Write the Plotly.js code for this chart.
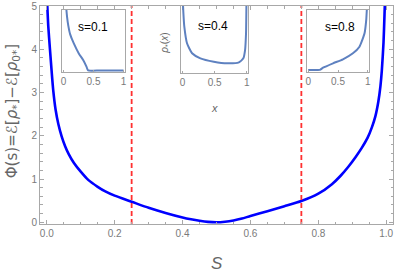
<!DOCTYPE html>
<html><head><meta charset="utf-8">
<script src="https://cdn.plot.ly/plotly-3.0.1.min.js"></script>
<style>html,body{margin:0;padding:0;background:#fff}#c{width:395px;height:277px}</style>
</head><body><div id="c"></div>
<script>
// main curve Phi(s)
const sVals = [0.001,0.0044,0.0094,0.0142,0.019,0.026,0.034,0.044,0.054,0.065,0.08,0.1,0.122,0.15,0.171,0.2,0.25,0.3,0.35,0.4,0.425,0.45,0.475,0.5,0.525,0.55,0.575,0.6,0.65,0.7,0.75,0.8,0.84,0.865,0.889,0.91,0.928,0.945,0.958,0.968,0.977,0.983,0.987,0.992,0.995,0.997];
const phiVals = [5.1,4.53,3.99,3.5,3.05,2.6,2.27,1.98,1.76,1.57,1.37,1.17,0.98,0.82,0.72,0.615,0.475,0.335,0.215,0.11,0.068,0.035,0.01,0.0,0.012,0.04,0.085,0.145,0.255,0.37,0.49,0.66,0.88,1.07,1.29,1.51,1.72,1.95,2.2,2.45,2.8,3.15,3.5,4.15,4.8,5.3];
// dashed marker positions
const dashS = [0.25, 0.75];
// inset s=0.1
const in1X = [0.04,0.06,0.08,0.11,0.17,0.255,0.328,0.383,0.41,0.6,0.8,1.0];
const in1Y = [1.1,0.88,0.74,0.6,0.45,0.28,0.173,0.063,0.0,0.0,0.0,0.0];
// inset s=0.4
const in2X = [0.003,0.012,0.027,0.069,0.148,0.278,0.487,0.697,0.879,0.948,0.975,0.99,0.997];
const in2Y = [1.1,0.9,0.68,0.424,0.27,0.192,0.14,0.115,0.13,0.192,0.32,0.58,1.1];
// inset s=0.8
const in3X = [0.0,0.1,0.195,0.25,0.417,0.583,0.75,0.86,0.945,0.973,0.983,0.99];
const in3Y = [0.0,0.0,0.0,0.037,0.11,0.177,0.277,0.387,0.61,0.83,1.0,1.1];
const insetTicks = [0,0.5,1];
const insetTickText = ['0','0.5','1'];
const xTicks = [0,0.2,0.4,0.6,0.8,1.0];
const yTicks = [0,1,2,3,4,5];

const frame = '#a8a8a8';
const tickCol = '#7a7a7a';
const insetBlue = '#5e81c0';
const red = '#ff3030';

const traces = [
  {x:sVals, y:phiVals, mode:'lines', line:{color:'#0000ff', width:2.6, shape:'spline', smoothing:0.6}, xaxis:'x', yaxis:'y'},
  {x:[dashS[0],dashS[0]], y:[-0.04,5], mode:'lines', line:{color:red, width:1.8, dash:'5px,3px'}, xaxis:'x', yaxis:'y'},
  {x:[dashS[1],dashS[1]], y:[-0.04,5], mode:'lines', line:{color:red, width:1.8, dash:'5px,3px'}, xaxis:'x', yaxis:'y'},
  {x:in1X, y:in1Y, mode:'lines', line:{color:insetBlue, width:2, shape:'spline', smoothing:0.5}, xaxis:'x2', yaxis:'y2'},
  {x:in2X, y:in2Y, mode:'lines', line:{color:insetBlue, width:2, shape:'spline', smoothing:0.5}, xaxis:'x3', yaxis:'y3'},
  {x:in3X, y:in3Y, mode:'lines', line:{color:insetBlue, width:2, shape:'spline', smoothing:0.5}, xaxis:'x4', yaxis:'y4'}
];

function insetX(domain, anchor){
  return {domain:domain, anchor:anchor, range:[-0.025,1.025], tickvals:insetTicks, ticktext:insetTickText,
    ticks:'inside', ticklen:2, tickcolor:frame, showline:true, linecolor:frame, linewidth:1, mirror:true,
    showgrid:false, zeroline:false, tickfont:{family:'Liberation Sans, Arial', size:10, color:tickCol}};
}
function insetY(domain, anchor){
  return {domain:domain, anchor:anchor, range:[-0.03,1.0], showticklabels:false, ticks:'',
    showline:true, linecolor:frame, linewidth:1, mirror:true, showgrid:false, zeroline:false};
}
function ann(text, x, y, size, color, angle, family){
  return {text:text, x:x, y:y, xref:'paper', yref:'paper', xanchor:'center', yanchor:'middle', showarrow:false,
    textangle:angle||0, font:{family:family||'Liberation Sans, Arial', size:size, color:color}};
}

const layout = {
  width:395, height:277, margin:{l:40, r:2, t:6, b:53},
  paper_bgcolor:'#fff', plot_bgcolor:'rgba(0,0,0,0)', showlegend:false,
  xaxis:{domain:[0,1], range:[-0.02,1.02], tickvals:xTicks, tickformat:'.1f', ticks:'inside', ticklen:4,
    tickcolor:frame, showline:true, linecolor:frame, linewidth:1, mirror:'ticks', showgrid:false, zeroline:false,
    minor:{dtick:0.05, ticks:'inside', ticklen:2.5, tickcolor:frame, showgrid:false},
    tickfont:{family:'Liberation Sans, Arial', size:10, color:tickCol}},
  yaxis:{domain:[0,1], range:[-0.04,5], tickvals:yTicks, ticks:'inside', ticklen:4,
    tickcolor:frame, showline:true, linecolor:frame, linewidth:1, mirror:'ticks', showgrid:false, zeroline:false,
    minor:{dtick:0.2, ticks:'inside', ticklen:2.5, tickcolor:frame, showgrid:false},
    tickfont:{family:'Liberation Sans, Arial', size:10, color:tickCol}},
  xaxis2:insetX([0.0623,0.2408],'y2'), yaxis2:insetY([0.696,0.982],'x2'),
  xaxis3:insetX([0.3994,0.590],'y3'), yaxis3:insetY([0.694,1.0],'x3'),
  xaxis4:insetX([0.7555,0.9329],'y4'), yaxis4:insetY([0.6986,0.982],'x4'),
  annotations:[
    ann('s=0.1', 0.150, 0.905, 12, '#000'),
    ann('s=0.4', 0.490, 0.910, 12, '#000'),
    ann('s=0.8', 0.850, 0.905, 12, '#000'),
    ann('<i>ρ</i><sub>*</sub>(<i>x</i>)', 0.353, 0.83, 10, '#666', -90),
    ann('<i>x</i>', 0.493, 0.532, 11, '#666'),
    ann('Φ(s)=ℰ[<i>ρ</i><sub>*</sub>]−ℰ[<i>ρ</i><sub>0*</sub>]', -0.079, 0.518, 15, '#666', -90, 'DejaVu Sans'),
    ann('<i>S</i>', 0.501, -0.179, 17, '#666')
  ]
};
Plotly.newPlot('c', traces, layout, {displayModeBar:false, staticPlot:true});
</script></body></html>
